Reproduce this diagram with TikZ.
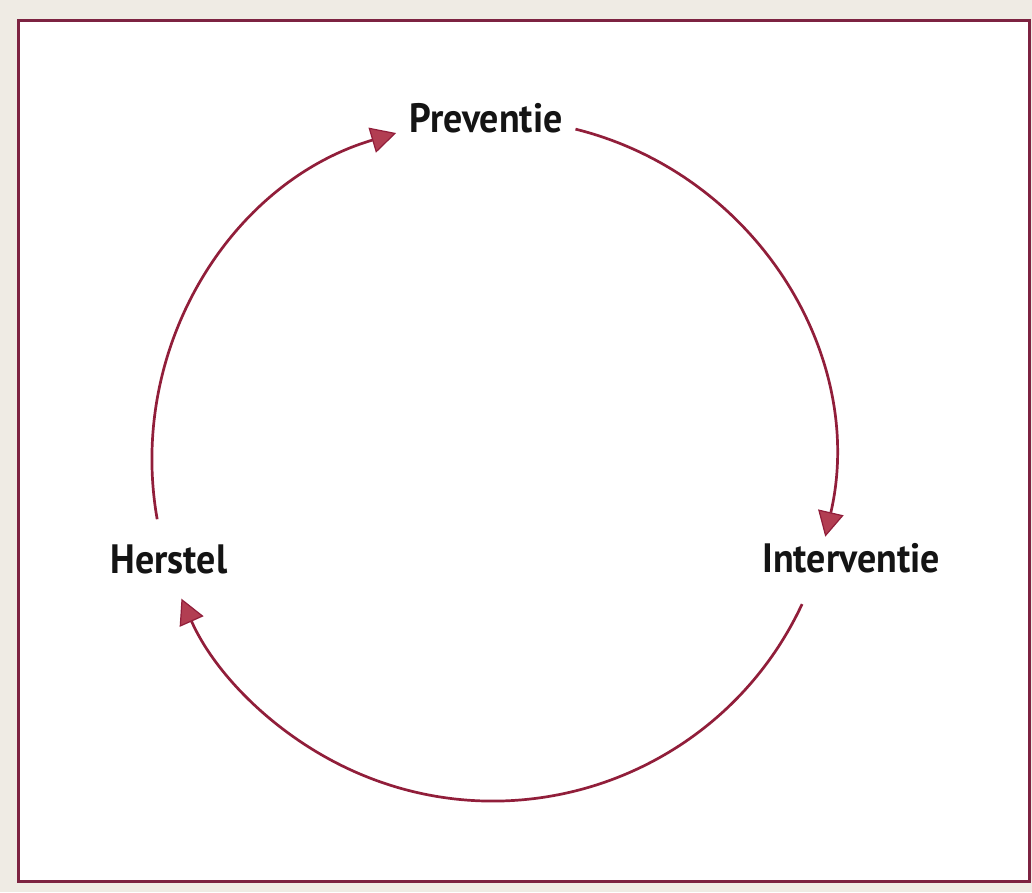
\documentclass[tikz,border=0pt]{standalone}
\usepackage{fontspec}
\setmainfont{PT Sans}
\newfontfamily\lblfont{PT Sans}[FakeStretch=0.925]
\usetikzlibrary{arrows.meta,calc}
\definecolor{framecol}{RGB}{125,35,65}
\definecolor{arccol}{RGB}{145,30,58}
\definecolor{tipfill}{RGB}{178,62,82}
\definecolor{pagebg}{RGB}{239,235,228}
\tikzset{
  lbl/.style={font=\lblfont\fontsize{41}{41}\selectfont\bfseries, text=black!92, inner sep=0pt, anchor=base},
  cyc/.style={draw=arccol, line width=2.7pt,
    -{Triangle[length=25pt,width=26pt,fill=tipfill,line width=1.2pt]}}
}
\begin{document}
\begin{tikzpicture}[x=1pt,y=1pt]
\useasboundingbox (0,0) rectangle (1032,-892);
\fill[pagebg] (0,0) rectangle (1032,-892);
\fill[white] (18,-20) rectangle (1029,-881);
\draw[framecol, line width=3pt] (18,-20) rectangle (1029,-881);
\coordinate (c) at (493,-460);
\node[lbl] (prev) at (486,-132) {Preventie};
\node[lbl] (inter) at (851,-572) {Interventie};
\node[lbl] (herst) at (169,-573) {Herstel};
\draw[cyc] ($(c)+(76:341)$) arc[start angle=76, end angle=-13, radius=341];
\draw[cyc] ($(c)+(-25:341)$) arc[start angle=-25, end angle=-156, radius=341];
\draw[cyc] ($(c)+(190:341)$) arc[start angle=190, end angle=106.5, radius=341];
\end{tikzpicture}
\end{document}
